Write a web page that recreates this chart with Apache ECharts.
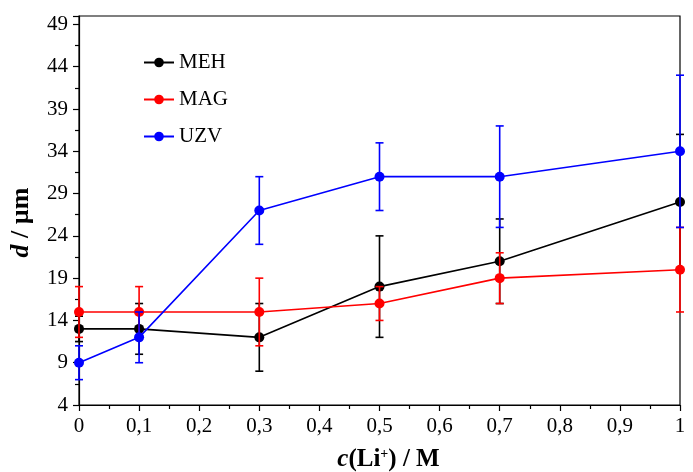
<!DOCTYPE html>
<html>
<head>
<meta charset="utf-8">
<script src="https://cdn.jsdelivr.net/npm/echarts@6/dist/echarts.min.js"></script>
<style>html,body{margin:0;padding:0;background:#fff}#c{width:693px;height:472px}</style>
</head>
<body>
<div id="c"></div>
<script>
var concentrations = [0, 0.1, 0.3, 0.5, 0.7, 1];
var seriesNames = ['MEH', 'MAG', 'UZV'];
var seriesColors = ['#000000', '#ff0000', '#0000ff'];
var MEH = [13, 13, 12, 18, 21, 28];
var MEH_low = [11.5, 10, 8, 12, 16, 20];
var MEH_high = [14.5, 16, 16, 24, 26, 36];
var MAG = [15, 15, 15, 16, 19, 20];
var MAG_low = [12, 12, 11, 14, 16, 15];
var MAG_high = [18, 18, 19, 18, 22, 25];
var UZV = [9, 12, 27, 31, 31, 34];
var UZV_low = [7, 9, 23, 27, 25, 25];
var UZV_high = [11, 15, 31, 35, 37, 43];
var yTicks = [4, 9, 14, 19, 24, 29, 34, 39, 44, 49];

var values = [MEH, MAG, UZV];
var lows = [MEH_low, MAG_low, UZV_low];
var highs = [MEH_high, MAG_high, UZV_high];

var font = '"Liberation Serif", "Times New Roman", serif';

function errRender(params, api) {
  var x = api.value(0);
  var p1 = api.coord([x, api.value(1)]);
  var p2 = api.coord([x, api.value(2)]);
  var w = 4;
  var st = {stroke: api.visual('color'), lineWidth: 1.6};
  return {
    type: 'group',
    children: [
      {type: 'line', shape: {x1: p1[0], y1: p1[1], x2: p2[0], y2: p2[1]}, style: st},
      {type: 'line', shape: {x1: p1[0] - w, y1: p1[1], x2: p1[0] + w, y2: p1[1]}, style: st},
      {type: 'line', shape: {x1: p2[0] - w, y1: p2[1], x2: p2[0] + w, y2: p2[1]}, style: st}
    ]
  };
}

var series = [];
seriesNames.forEach(function (n, i) {
  series.push({
    name: n + ' err',
    type: 'custom',
    renderItem: errRender,
    itemStyle: {color: seriesColors[i]},
    data: concentrations.map(function (c, j) { return [c, lows[i][j], highs[i][j]]; }),
    z: 2 + i * 2,
    silent: true
  });
  series.push({
    name: n,
    type: 'line',
    data: concentrations.map(function (c, j) { return [c, values[i][j]]; }),
    symbol: 'circle',
    symbolSize: 10,
    color: seriesColors[i],
    lineStyle: {width: 1.6, color: seriesColors[i]},
    itemStyle: {color: seriesColors[i]},
    z: 3 + i * 2,
    animation: false
  });
});

var chart = echarts.init(document.getElementById('c'));
chart.setOption({
  animation: false,
  backgroundColor: '#fff',
  grid: {left: 79, right: 13, top: 16, bottom: 67, containLabel: false, outerBoundsMode: 'none',
         show: true, borderColor: '#000', borderWidth: 1.2},
  legend: {
    data: seriesNames,
    orient: 'vertical',
    left: 138,
    top: 47,
    itemWidth: 30,
    itemHeight: 12,
    itemGap: 16,
    textStyle: {fontFamily: font, fontSize: 21, color: '#000'}
  },
  xAxis: {
    type: 'value',
    min: 0,
    max: 1,
    interval: 0.1,
    name: '{i|c}{b|(Li}{s|+}{b|) / M}',
    nameLocation: 'middle',
    nameGap: 42,
    nameTextStyle: {
      padding: [0, 0, 0, 18],
      rich: {
        i: {fontFamily: font, fontSize: 25, fontWeight: 'bold', fontStyle: 'italic', color: '#000'},
        b: {fontFamily: font, fontSize: 25, fontWeight: 'bold', color: '#000'},
        s: {fontFamily: font, fontSize: 14, fontWeight: 'bold', color: '#000', verticalAlign: 'top', padding: [0, 0, 10, 0]}
      }
    },
    axisLine: {show: true, onZero: false, lineStyle: {color: '#000', width: 1.2}},
    axisTick: {show: true, length: 6, lineStyle: {color: '#000', width: 1.2}},
    minorTick: {show: true, splitNumber: 2, length: 4, lineStyle: {color: '#000', width: 1.2}},
    splitLine: {show: false},
    axisLabel: {
      fontFamily: font, fontSize: 21, color: '#000', margin: 11,
      formatter: function (v) { return String(Math.round(v * 10) / 10).replace('.', ','); }
    }
  },
  yAxis: {
    type: 'value',
    min: 4,
    max: 50,
    interval: 5,
    name: '{i|d}{b| / µm}',
    nameLocation: 'middle',
    nameGap: 45,
    nameTextStyle: {
      padding: [0, 24, 0, 0],
      rich: {
        i: {fontFamily: font, fontSize: 26, fontWeight: 'bold', fontStyle: 'italic', color: '#000'},
        b: {fontFamily: font, fontSize: 26, fontWeight: 'bold', color: '#000'}
      }
    },
    axisLine: {show: true, lineStyle: {color: '#000', width: 1.2}},
    axisTick: {show: true, length: 6, lineStyle: {color: '#000', width: 1.2}},
    minorTick: {show: true, splitNumber: 2, length: 4, lineStyle: {color: '#000', width: 1.2}},
    splitLine: {show: false},
    axisLabel: {
      fontFamily: font, fontSize: 21, color: '#000', margin: 11, showMaxLabel: false,
      formatter: function (v) { return yTicks.indexOf(v) >= 0 ? String(v) : ''; }
    }
  },
  series: series
});
</script>
</body>
</html>
